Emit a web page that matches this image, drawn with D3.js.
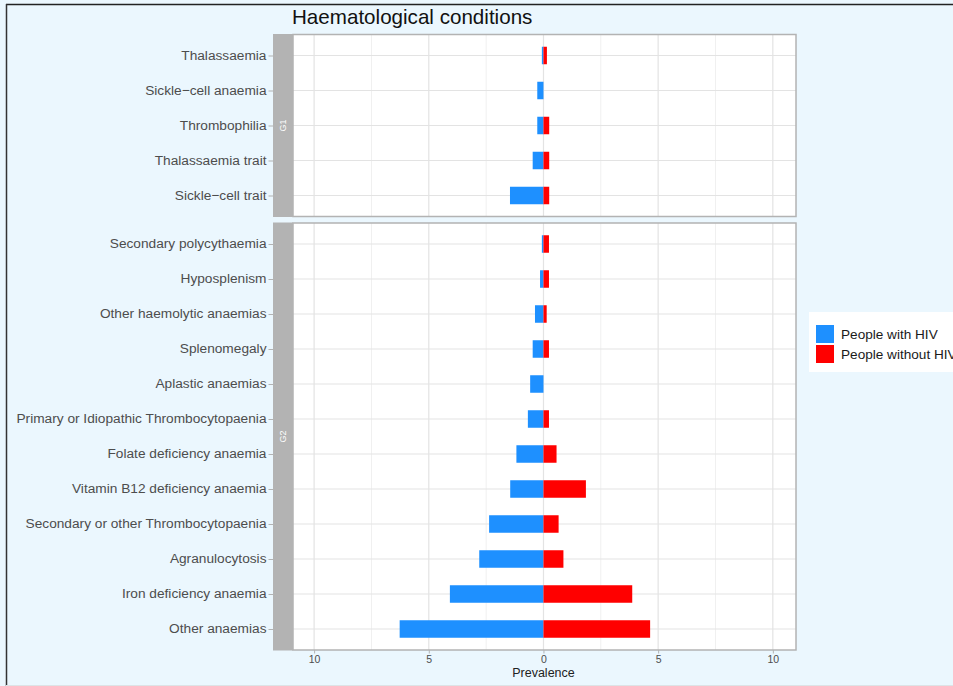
<!DOCTYPE html>
<html>
<head>
<meta charset="utf-8">
<script src="https://cdn.jsdelivr.net/npm/d3@7"></script>
<style>
  body { margin: 0; background: #fff; }
  text { font-family: "Liberation Sans", Arial, sans-serif; }
</style>
</head>
<body>
<svg width="953" height="686"></svg>
<script>
// data
var groups = ['G1', 'G2']
var conditionsG1 = ['Thalassaemia', 'Sickle\u2212cell anaemia', 'Thrombophilia', 'Thalassaemia trait', 'Sickle\u2212cell trait']
var withHivG1 = [0.07, 0.27, 0.27, 0.47, 1.46]
var withoutHivG1 = [0.15, 0, 0.25, 0.25, 0.25]
var conditionsG2 = ['Secondary polycythaemia', 'Hyposplenism', 'Other haemolytic anaemias', 'Splenomegaly',
  'Aplastic anaemias', 'Primary or Idiopathic Thrombocytopaenia', 'Folate deficiency anaemia',
  'Vitamin B12 deficiency anaemia', 'Secondary or other Thrombocytopaenia', 'Agranulocytosis',
  'Iron deficiency anaemia', 'Other anaemias']
var withHivG2 = [0.07, 0.15, 0.37, 0.47, 0.58, 0.68, 1.18, 1.45, 2.37, 2.80, 4.08, 6.27]
var withoutHivG2 = [0.24, 0.24, 0.14, 0.24, 0, 0.24, 0.57, 1.85, 0.66, 0.87, 3.87, 4.65]
var majorTicks = [-10, -5, 0, 5, 10]
var minorTicks = [-7.5, -2.5, 2.5, 7.5]
var tickLabels = ['10', '5', '0', '5', '10']
var seriesNames = ['People with HIV', 'People without HIV']
var seriesColors = ['#1E90FF', '#FF0000']

var svg = d3.select('svg')

// background + frame
svg.append('rect').attr('width', 953).attr('height', 686).attr('fill', '#EBF7FE')
svg.append('line').attr('x1', 6).attr('x2', 953).attr('y1', 4.5).attr('y2', 4.5).attr('stroke', '#222').attr('stroke-width', 1.5)
svg.append('line').attr('x1', 6.5).attr('x2', 6.5).attr('y1', 4).attr('y2', 686).attr('stroke', '#333').attr('stroke-width', 1.5)
svg.append('line').attr('x1', 6).attr('x2', 953).attr('y1', 685.5).attr('y2', 685.5).attr('stroke', '#dde3e6')

var left = 293, right = 796
var x = d3.scaleLinear().domain([-10.92, 11.01]).range([left, right])

var panels = [
  { name: groups[0], cats: conditionsG1, hiv: withHivG1, nohiv: withoutHivG1, top: 34.5, h: 182 },
  { name: groups[1], cats: conditionsG2, hiv: withHivG2, nohiv: withoutHivG2, top: 223, h: 427 }
]

panels.forEach(function (p) {
  var y = d3.scalePoint().domain(p.cats).range([p.top, p.top + p.h]).padding(0.6)
  var g = svg.append('g')

  g.append('rect').attr('x', left).attr('y', p.top).attr('width', right - left).attr('height', p.h).attr('fill', '#fff')

  g.selectAll('.minor').data(minorTicks).enter().append('line')
    .attr('x1', function (d) { return x(d) }).attr('x2', function (d) { return x(d) })
    .attr('y1', p.top).attr('y2', p.top + p.h)
    .attr('stroke', '#F0F0F0').attr('stroke-width', 1)
  g.selectAll('.major').data(majorTicks).enter().append('line')
    .attr('x1', function (d) { return x(d) }).attr('x2', function (d) { return x(d) })
    .attr('y1', p.top).attr('y2', p.top + p.h)
    .attr('stroke', '#E3E3E3').attr('stroke-width', 1.2)
  g.selectAll('.hgrid').data(p.cats).enter().append('line')
    .attr('x1', left).attr('x2', right)
    .attr('y1', function (d) { return y(d) }).attr('y2', function (d) { return y(d) })
    .attr('stroke', '#E3E3E3').attr('stroke-width', 1.2)

  var bh = y.step() * 0.5
  g.selectAll('.hiv').data(p.cats).enter().append('rect')
    .attr('x', function (d, i) { return x(-p.hiv[i]) })
    .attr('width', function (d, i) { return x(0) - x(-p.hiv[i]) })
    .attr('y', function (d) { return y(d) - bh / 2 }).attr('height', bh)
    .attr('fill', seriesColors[0])
  g.selectAll('.nohiv').data(p.cats).enter().append('rect')
    .attr('x', x(0))
    .attr('width', function (d, i) { return x(p.nohiv[i]) - x(0) })
    .attr('y', function (d) { return y(d) - bh / 2 }).attr('height', bh)
    .attr('fill', seriesColors[1])

  g.append('rect').attr('x', left).attr('y', p.top).attr('width', right - left).attr('height', p.h)
    .attr('fill', 'none').attr('stroke', '#B3B3B3').attr('stroke-width', 1.5)

  // strip
  g.append('rect').attr('x', 273).attr('y', p.top - 0.5).attr('width', 20).attr('height', p.h + 1).attr('fill', '#B3B3B3')
  g.append('text').attr('transform', 'translate(286,' + (p.top + p.h / 2) + ') rotate(-90)')
    .attr('text-anchor', 'middle').attr('fill', '#fff').attr('font-size', 9).text(p.name)

  // y axis
  var ya = g.append('g').attr('transform', 'translate(273,0)')
    .call(d3.axisLeft(y).tickSize(4.5).tickPadding(2))
  ya.select('.domain').remove()
  ya.selectAll('line').attr('stroke', '#B3B3B3')
  ya.selectAll('text').attr('fill', '#4D4D4D').attr('font-size', 13.7).attr('dy', '0.28em')
    .attr('font-family', '"Liberation Sans", Arial, sans-serif')
})

// x axis
var bottom = 650
var xa = svg.append('g').attr('transform', 'translate(0,' + bottom + ')')
  .call(d3.axisBottom(x).tickValues(majorTicks).tickSize(3.5).tickPadding(2)
    .tickFormat(function (d, i) { return tickLabels[i] }))
xa.select('.domain').remove()
xa.selectAll('line').attr('stroke', '#B3B3B3')
xa.selectAll('text').attr('fill', '#4D4D4D').attr('font-size', 10.5).attr('font-family', '"Liberation Sans", Arial, sans-serif')

svg.append('text').attr('x', (left + right) / 2 - 1).attr('y', 677).attr('text-anchor', 'middle')
  .attr('font-size', 12.5).attr('fill', '#222').text('Prevalence')

svg.append('text').attr('x', 292).attr('y', 24).attr('font-size', 20.6).attr('fill', '#111').text('Haematological conditions')

// legend
var lg = svg.append('g')
lg.append('rect').attr('x', 809).attr('y', 312).attr('width', 150).attr('height', 60).attr('fill', '#fff')
seriesNames.forEach(function (s, i) {
  lg.append('rect').attr('x', 816).attr('y', 325 + i * 20).attr('width', 18).attr('height', 18).attr('fill', seriesColors[i])
  lg.append('text').attr('x', 841).attr('y', 339 + i * 20).attr('font-size', 13.6).attr('fill', '#1a1a1a').text(s)
})
</script>
</body>
</html>
